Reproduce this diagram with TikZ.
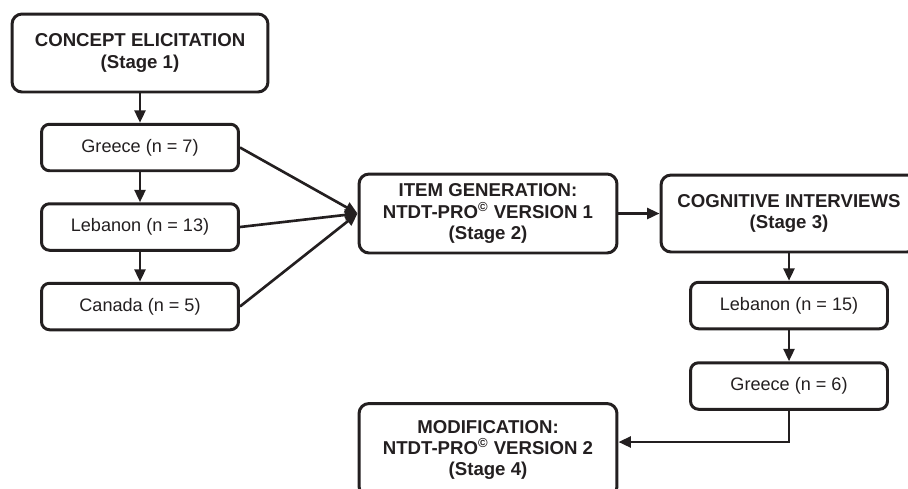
\documentclass[tikz,border=0pt]{standalone}
\usepackage{fontspec}
\setmainfont{Liberation Sans}
\usepackage{xcolor}
\usepackage{tikz}
\usetikzlibrary{calc,arrows.meta}
\definecolor{ink}{HTML}{231F20}
\tikzset{
  stage/.style={draw=ink, line width=1.7pt, rounded corners=0.2cm, align=center, text=ink,
    font=\fontsize{10.6}{12}\selectfont\bfseries, minimum width=5.12cm, inner sep=0pt},
  site/.style={draw=ink, line width=1.7pt, rounded corners=0.16cm, text=ink,
    font=\fontsize{10.3}{12}\selectfont, minimum width=3.94cm, minimum height=0.93cm, inner sep=0pt},
  flow/.style={-{Triangle[length=0.25cm,width=0.22cm]}, draw=ink, line width=1.5pt}
}

\begin{document}
\begin{tikzpicture}[x=0.02cm,y=-0.02cm]
  \useasboundingbox (0,0) rectangle (908,488);

  % stage 1 and the three countries
  \node[stage, minimum height=1.56cm] (concept) at (140,53) {CONCEPT ELICITATION\\(Stage 1)};
  \node[site] (gr1)  at (140,147.5) {Greece (n = 7)};
  \node[site] (leb1) at (140,227)   {Lebanon (n = 13)};
  \node[site] (can)  at (140,306.5) {Canada (n = 5)};

  % stages 2 and 3
  \node[stage, minimum width=5.16cm, minimum height=1.58cm] (item) at (488,213.5)
    {ITEM GENERATION:\\NTDT-PRO\textsuperscript{©} VERSION 1\\(Stage 2)};
  \node[stage, minimum height=1.54cm] (cog) at (789,213.5) {COGNITIVE INTERVIEWS\\(Stage 3)};
  \node[site] (leb2) at (789,305.5) {Lebanon (n = 15)};
  \node[site] (gr2)  at (789,386)   {Greece (n = 6)};

  % stage 4 (runs off the bottom)
  \node[stage, minimum width=5.16cm, minimum height=1.86cm] (mod) at (488,450)
    {MODIFICATION:\\NTDT-PRO\textsuperscript{©} VERSION 2\\(Stage 4)};
  \coordinate (modin) at ([yshift=0.16cm]mod.east);

  % connectors
  \draw[flow] (concept.south) -- (gr1.north);
  \draw[flow] (gr1.south) -- (leb1.north);
  \draw[flow] (leb1.south) -- (can.north);
  \foreach \s in {gr1,leb1,can}
    \draw[flow] (\s.east) -- (item.west);
  \draw[flow] (item.east) -- (cog.west);
  \draw[flow] (cog.south) -- (leb2.north);
  \draw[flow] (leb2.south) -- (gr2.north);
  \draw[flow] (gr2.south) |- (modin);
\end{tikzpicture}
\end{document}
